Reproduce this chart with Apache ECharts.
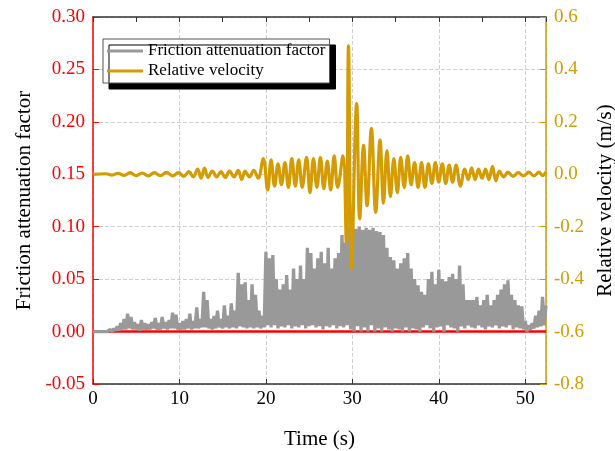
<!DOCTYPE html>
<html>
<head>
<meta charset="utf-8">
<script src="https://cdn.jsdelivr.net/npm/echarts@6/dist/echarts.min.js"></script>
<style>html,body{margin:0;padding:0;background:#fff;}#chart{width:615px;height:451px;}</style>
</head>
<body>
<div id="chart"></div>
<script>
// x ticks (s)
const xTicks = [0, 10, 20, 30, 40, 50];
const xMax = 52.4;
// Friction attenuation factor, sampled every frictionStep seconds from frictionStart
const frictionStart = 0;
const frictionStep = 0.2;
const frictionValues = [
  0,0,0,0,0,0,0,0,0,0,
  0.002,0.0,0.003,0.001,0.005,0.001,0.008,0.002,0.012,0.002,
  0.017,0.003,0.014,0.002,0.009,0.002,0.007,0.001,0.011,0.002,
  0.008,0.002,0.007,0.002,0.009,0.003,0.013,0.002,0.008,0.002,
  0.014,0.003,0.009,0.002,0.011,0.003,0.018,0.003,0.016,0.002,
  0.008,0.002,0.01,0.002,0.012,0.003,0.017,0.002,0.01,0.003,
  0.023,0.003,0.012,0.004,0.038,0.004,0.03,0.003,0.012,0.002,
  0.015,0.003,0.02,0.004,0.012,0.003,0.025,0.004,0.015,0.003,
  0.027,0.004,0.02,0.003,0.056,0.005,0.045,0.004,0.047,0.003,
  0.03,0.004,0.045,0.003,0.035,0.004,0.02,0.003,0.015,0.004,
  0.076,0.006,0.07,0.004,0.073,0.006,0.05,0.003,0.04,0.005,
  0.045,0.004,0.054,0.006,0.04,0.003,0.06,0.005,0.05,0.004,
  0.063,0.006,0.05,0.003,0.08,0.005,0.075,0.006,0.06,0.004,
  0.07,0.005,0.076,0.002,0.065,0.005,0.08,0.004,0.06,0.006,
  0.07,0.003,0.075,0.005,0.092,0.004,0.085,0.006,0.1,0.002,
  0.1,0.0,0.098,0.005,0.1,0.0,0.097,0.004,0.099,0.0,
  0.097,0.006,0.099,0.0,0.096,0.003,0.095,0.0,0.092,0.004,
  0.08,0.002,0.071,0.0,0.068,0.003,0.06,0.002,0.065,0.0,
  0.07,0.004,0.075,0.0,0.06,0.003,0.05,0.002,0.044,0.0,
  0.038,0.004,0.035,0.006,0.05,0.003,0.057,0.0,0.045,0.004,
  0.059,0.005,0.05,0.0,0.048,0.006,0.052,0.004,0.055,0.003,
  0.05,0.0,0.063,0.005,0.045,0.003,0.03,0.006,0.03,0.004,
  0.03,0.003,0.033,0.006,0.025,0.004,0.03,0.002,0.035,0.005,
  0.025,0.004,0.03,0.006,0.035,0.003,0.04,0.005,0.045,0.004,
  0.049,0.006,0.035,0.002,0.03,0.004,0.025,0.003,0.024,0.002,
  0.01,0.0,0.006,0.002,0.008,0.003,0.015,0.004,0.02,0.005,
  0.033,0.006,0.025
];
// Zero baseline (red)
const baselineData = [[0, 0], [52.4, 0]];
// Relative velocity (m/s): [time, value]
const velocityData = [
  [0,0],[1.5,0.002],[2.2,-0.003],[2.9,0.004],[3.6,-0.004],[4.3,0.006],[5,-0.005],[5.7,0.005],
  [6.4,-0.006],[7.1,0.006],[7.8,-0.005],[8.5,0.007],[9.2,-0.006],[9.9,0.006],[10.5,-0.008],
  [11.1,0.01],[11.6,-0.01],[12.1,0.02],[12.5,-0.015],[12.9,0.024],[13.3,-0.012],[13.8,0.012],
  [14.3,-0.01],[14.8,0.01],[15.3,-0.012],[15.8,0.012],[16.3,-0.01],[16.8,0.015],[17.2,-0.02],
  [17.6,0.012],[18.1,-0.01],[18.6,0.015],[19.1,-0.015],[19.7,0.06],[20.2,-0.06],[20.6,0.055],
  [21,-0.045],[21.4,0.04],[21.8,-0.04],[22.2,0.045],[22.6,-0.05],[23,0.06],[23.4,-0.045],
  [23.8,0.055],[24.2,-0.05],[24.7,0.065],[25.1,-0.07],[25.5,0.06],[25.9,-0.05],[26.3,0.065],
  [26.7,-0.055],[27.1,0.05],[27.5,-0.06],[27.9,0.07],[28.3,-0.05],[28.9,0.07],[29.3,-0.26],
  [29.55,0.49],[29.9,-0.36],[30.5,0.27],[30.85,-0.17],[31.3,0.11],[31.7,-0.12],[32.2,0.175],
  [32.7,-0.145],[33.2,0.13],[33.6,-0.11],[34.0,0.09],[34.4,-0.085],[34.8,0.06],[35.2,-0.07],
  [35.6,0.065],[36.0,-0.05],[36.4,0.07],[36.8,-0.04],[37.2,0.045],[37.6,-0.05],[38.0,0.045],
  [38.4,-0.05],[38.8,0.04],[39.2,-0.035],[39.6,0.045],[40.0,-0.03],[40.4,0.04],[40.8,-0.035],
  [41.2,0.035],[41.6,-0.03],[42.0,0.035],[42.5,-0.045],[43.0,0.02],[43.4,-0.02],[43.8,0.025],
  [44.2,-0.02],[44.6,0.02],[45.0,-0.015],[45.4,0.02],[45.8,-0.02],[46.2,0.03],[46.6,-0.025],
  [47.0,0.012],[47.5,-0.01],[48.0,0.008],[48.6,-0.008],[49.2,0.006],[49.8,-0.006],[50.4,0.008],
  [51.0,-0.006],[51.6,0.008],[52.0,-0.005],[52.4,0.01]
];

const frictionData = frictionValues.map((v, i) => [frictionStart + i * frictionStep, v]);

const RED = '#ff0000';
const GOLD = '#d49c00';
const FONT = 'Liberation Serif';

const chart = echarts.init(document.getElementById('chart'), null, {renderer: 'canvas'});
chart.setOption({
  animation: false,
  backgroundColor: '#fff',
  textStyle: {fontFamily: FONT},
  grid: {left: 93, right: 69, top: 17, bottom: 67, containLabel: false, outerBoundsMode: 'none'},
  legend: {
    orient: 'vertical',
    left: 103, top: 39,
    padding: [3, 4, 3, 4],
    itemGap: 2,
    itemWidth: 36, itemHeight: 3,
    icon: 'rect',
    backgroundColor: '#fff',
    borderColor: '#555', borderWidth: 1,
    shadowColor: '#000', shadowBlur: 0, shadowOffsetX: 6, shadowOffsetY: 6,
    textStyle: {fontFamily: FONT, fontSize: 17, color: '#000', lineHeight: 18},
    data: ['Friction attenuation factor', 'Relative velocity']
  },
  xAxis: [{
    type: 'value', min: 0, max: xMax, interval: 10,
    name: 'Time (s)', nameLocation: 'middle', nameGap: 45,
    nameTextStyle: {fontFamily: FONT, fontSize: 21, color: '#000'},
    axisLine: {onZero: false, lineStyle: {color: '#333', width: 1.5}},
    axisTick: {inside: true, length: 5, lineStyle: {color: '#333'}},
    axisLabel: {fontFamily: FONT, fontSize: 19, color: '#000', margin: 6, showMaxLabel: false},
    splitLine: {show: true, lineStyle: {color: '#d0d0d0', type: 'dashed'}}
  }, {
    type: 'value', position: 'top', min: 0, max: xMax, interval: 5,
    axisLine: {show: true, onZero: false, lineStyle: {color: '#333', width: 1.5}},
    axisTick: {show: true, inside: true, length: 5, lineStyle: {color: '#333'}},
    axisLabel: {show: false},
    splitLine: {show: false}
  }],
  yAxis: [{
    type: 'value', position: 'left', min: -0.05, max: 0.30, interval: 0.05,
    name: 'Friction attenuation factor', nameLocation: 'middle', nameGap: 56,
    nameTextStyle: {fontFamily: FONT, fontSize: 21, color: '#000'},
    axisLine: {show: true, onZero: false, lineStyle: {color: RED, width: 1.5}},
    axisTick: {show: true, inside: true, length: 6, lineStyle: {color: RED}},
    axisLabel: {fontFamily: FONT, fontSize: 19, color: RED, margin: 8,
      formatter: v => v.toFixed(2)},
    splitLine: {show: true, lineStyle: {color: '#d0d0d0', type: 'dashed'}}
  }, {
    type: 'value', position: 'right', min: -0.8, max: 0.6, interval: 0.2,
    name: 'Relative velocity (m/s)', nameLocation: 'middle', nameGap: 47,
    nameRotate: 90,
    nameTextStyle: {fontFamily: FONT, fontSize: 21, color: '#000'},
    axisLine: {show: true, onZero: false, lineStyle: {color: GOLD, width: 1.5}},
    axisTick: {show: true, inside: true, length: 6, lineStyle: {color: GOLD}},
    axisLabel: {fontFamily: FONT, fontSize: 19, color: GOLD, margin: 8,
      formatter: v => (Math.abs(v) < 1e-9 ? 0 : v).toFixed(1)},
    splitLine: {show: false}
  }],
  series: [{
    name: 'baseline', type: 'line', xAxisIndex: 0, yAxisIndex: 0,
    data: baselineData, showSymbol: false, z: 1,
    lineStyle: {color: RED, width: 2.5}, silent: true
  }, {
    name: 'Friction attenuation factor', type: 'line', xAxisIndex: 0, yAxisIndex: 0,
    data: frictionData, showSymbol: false, z: 2,
    itemStyle: {color: '#999999'},
    lineStyle: {color: '#999999', width: 3.3}
  }, {
    name: 'Relative velocity', type: 'line', xAxisIndex: 0, yAxisIndex: 1,
    data: velocityData, showSymbol: false, smooth: 0.4, z: 3,
    itemStyle: {color: GOLD},
    lineStyle: {color: GOLD, width: 3.2}
  }]
});
</script>
</body>
</html>
